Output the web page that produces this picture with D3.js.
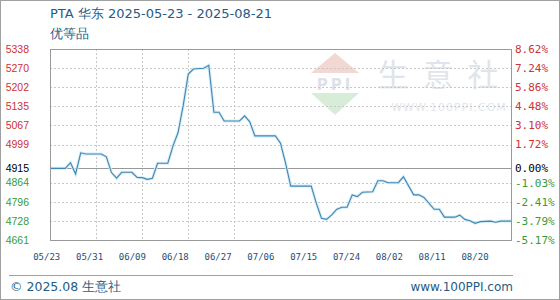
<!DOCTYPE html>
<html>
<head>
<meta charset="utf-8">
<script src="https://cdn.jsdelivr.net/npm/d3@7"></script>
<style>
  html, body { margin: 0; padding: 0; background: #fff; }
  svg { display: block; }
</style>
</head>
<body>
<div id="chart"></div>
<script>
// PTA East China price line, 2025-05-23 .. 2025-08-21

const dates = ["2025-05-23","2025-05-26","2025-05-27","2025-05-28","2025-05-29","2025-05-30",
  "2025-06-02","2025-06-03","2025-06-04","2025-06-05","2025-06-06","2025-06-08","2025-06-09",
  "2025-06-10","2025-06-11","2025-06-12","2025-06-13","2025-06-15","2025-06-16","2025-06-17",
  "2025-06-18","2025-06-19","2025-06-20","2025-06-22","2025-06-23","2025-06-24","2025-06-25",
  "2025-06-26","2025-06-29","2025-06-30","2025-07-01","2025-07-02","2025-07-06","2025-07-07",
  "2025-07-08","2025-07-09","2025-07-13","2025-07-14","2025-07-15","2025-07-16","2025-07-17",
  "2025-07-18","2025-07-19","2025-07-20","2025-07-21","2025-07-22","2025-07-23","2025-07-25",
  "2025-07-26","2025-07-27","2025-07-28","2025-07-30","2025-07-31","2025-08-02","2025-08-03",
  "2025-08-04","2025-08-06","2025-08-07","2025-08-08","2025-08-10","2025-08-11","2025-08-12",
  "2025-08-13","2025-08-14","2025-08-15","2025-08-17","2025-08-18","2025-08-19","2025-08-21"];

const prices = [4915,4915,4935,4895,4970,4966,
  4966,4956,4900,4880,4901,4901,4883,
  4882,4876,4880,4933,4933,4994,5042,
  5137,5249,5267,5270,5280,5114,5114,
  5083,5083,5101,5080,5030,5030,5004,
  4933,4852,4852,4791,4738,4734,4750,
  4770,4777,4777,4821,4815,4830,4832,
  4871,4871,4864,4864,4885,4821,4821,
  4812,4770,4770,4742,4742,4749,4734,
  4729,4720,4726,4728,4724,4728,4728];

const basePrice = 4915;
const yTicks = [4661, 4728, 4796, 4864, 4915, 4999, 5067, 5135, 5202, 5270, 5338];
const pctLabels = ["-5.17%", "-3.79%", "-2.41%", "-1.03%", "0.00%", "1.72%", "3.10%", "4.48%", "5.86%", "7.24%", "8.62%"];
const xLabels = ["05/23", "05/31", "06/09", "06/18", "06/27", "07/06", "07/15", "07/24", "08/02", "08/11", "08/20"];

const W = 560, H = 300;
const plot = { left: 50, right: 511, top: 49, bottom: 240 };

const RED = "#cc3333", GREEN = "#3a9a3a", BLUE_TXT = "#245b86";

const parse = d3.utcParse("%Y-%m-%d");
const data = dates.map((d, i) => ({ date: parse(d), value: prices[i] }));

const svg = d3.select("#chart").append("svg")
  .attr("width", W)
  .attr("height", H);

svg.append("rect")
  .attr("x", 0.5).attr("y", 0.5)
  .attr("width", W - 1).attr("height", H - 1)
  .attr("fill", "#fff")
  .attr("stroke", "#a0a0a0");

const x = d3.scaleUtc()
  .domain([parse("2025-05-23"), parse("2025-08-21")])
  .range([plot.left, plot.right]);

const y = d3.scaleLinear()
  .domain([4661, 5338])
  .range([plot.bottom, plot.top]);

const xLab = d3.scalePoint()
  .domain(xLabels)
  .range([46.7, 475]);

// watermark
const wm = svg.append("g").attr("class", "watermark");
wm.append("path")
  .attr("d", "M335,53 L359,73 L311,73 Z")
  .attr("fill", "#f3d7d2");
wm.append("text")
  .attr("x", 335).attr("y", 90)
  .attr("text-anchor", "middle")
  .style("font-family", "DejaVu Sans, sans-serif")
  .style("font-size", "15px")
  .style("font-weight", "bold")
  .style("letter-spacing", "3px")
  .attr("fill", "#dde2ea")
  .text("PPI");
wm.append("path")
  .attr("d", "M311,93 L359,93 L335,115 Z")
  .attr("fill", "#d8edd8");
wm.append("text")
  .attr("x", 445).attr("y", 86)
  .attr("text-anchor", "middle")
  .style("font-family", "Noto Sans CJK SC, sans-serif")
  .style("font-size", "31px")
  .style("letter-spacing", "14px")
  .attr("fill", "#e0e4eb")
  .text("生意社");
wm.append("text")
  .attr("x", 449).attr("y", 111)
  .attr("text-anchor", "middle")
  .style("font-family", "DejaVu Sans, sans-serif")
  .style("font-size", "11px")
  .style("letter-spacing", "1px")
  .attr("fill", "#e3e6ec")
  .text("WWW.100PPI.COM");

// grid
const grid = svg.append("g").attr("class", "grid");
grid.selectAll(".hgrid")
  .data(yTicks.filter(v => v !== basePrice))
  .join("line")
  .attr("x1", plot.left).attr("x2", plot.right)
  .attr("y1", d => Math.round(y(d)) + 0.5)
  .attr("y2", d => Math.round(y(d)) + 0.5)
  .attr("stroke", "#c8c8c8")
  .attr("stroke-dasharray", "2,2");

const vTicks = d3.utcDay.every(9).range(parse("2025-05-24"), parse("2025-08-21"))
  .filter(d => d3.utcDay.count(parse("2025-05-23"), d) % 9 === 0);
grid.selectAll(".vgrid")
  .data(vTicks)
  .join("line")
  .attr("x1", d => Math.round(x(d)) + 0.5)
  .attr("x2", d => Math.round(x(d)) + 0.5)
  .attr("y1", plot.top).attr("y2", plot.bottom)
  .attr("stroke", "#c8c8c8")
  .attr("stroke-dasharray", "2,2");

// base line
svg.append("line")
  .attr("x1", plot.left).attr("x2", plot.right)
  .attr("y1", Math.round(y(basePrice)) + 0.5)
  .attr("y2", Math.round(y(basePrice)) + 0.5)
  .attr("stroke", "#999");

// price line
const line = d3.line()
  .x(d => x(d.date))
  .y(d => y(d.value));

svg.append("path")
  .datum(data)
  .attr("fill", "none")
  .attr("stroke", "#d6ecf7")
  .attr("stroke-width", 3)
  .attr("d", line);
svg.append("path")
  .datum(data)
  .attr("fill", "none")
  .attr("stroke", "#3f87b3")
  .attr("stroke-width", 1.1)
  .attr("d", line);

// plot frame
svg.append("rect")
  .attr("x", plot.left + 0.5).attr("y", plot.top + 0.5)
  .attr("width", plot.right - plot.left)
  .attr("height", plot.bottom - plot.top)
  .attr("fill", "none")
  .attr("stroke", "#999");

const tickColor = v => v > basePrice ? RED : (v < basePrice ? GREEN : "#000");

// left axis labels
svg.append("g")
  .selectAll("text")
  .data(yTicks)
  .join("text")
  .attr("x", 29)
  .attr("y", d => y(d))
  .attr("dy", "0.35em")
  .attr("text-anchor", "end")
  .style("font-family", "Liberation Sans, Arial, sans-serif")
  .style("font-size", "10.5px")
  .attr("fill", d => tickColor(d))
  .text(d => d);

// right axis labels
svg.append("g")
  .selectAll("text")
  .data(yTicks)
  .join("text")
  .attr("x", 515)
  .attr("y", d => y(d))
  .attr("dy", "0.35em")
  .style("font-family", "DejaVu Sans Mono, monospace")
  .style("font-size", "11px")
  .attr("fill", d => tickColor(d))
  .text((d, i) => pctLabels[i]);

// x labels
svg.append("g")
  .selectAll("text")
  .data(xLabels)
  .join("text")
  .attr("x", d => xLab(d))
  .attr("y", 260)
  .attr("text-anchor", "middle")
  .style("font-family", "DejaVu Sans Mono, monospace")
  .style("font-size", "9px")
  .attr("fill", "#1f4e79")
  .text(d => d);

// title
svg.append("text")
  .attr("x", 50).attr("y", 18)
  .style("font-family", "DejaVu Sans, sans-serif")
  .style("font-size", "13px")
  .attr("fill", BLUE_TXT)
  .text("PTA 华东 2025-05-23 - 2025-08-21");
svg.append("text")
  .attr("x", 50).attr("y", 38)
  .style("font-family", "DejaVu Sans, sans-serif")
  .style("font-size", "13px")
  .attr("fill", BLUE_TXT)
  .text("优等品");

// footer
svg.append("line")
  .attr("x1", 9).attr("x2", 513)
  .attr("y1", 275.5).attr("y2", 275.5)
  .attr("stroke", "#a0a0a0");
svg.append("text")
  .attr("x", 10).attr("y", 291)
  .style("font-family", "DejaVu Sans, sans-serif")
  .style("font-size", "12.5px")
  .attr("fill", BLUE_TXT)
  .text("© 2025.08 生意社");
svg.append("text")
  .attr("x", 513).attr("y", 291)
  .attr("text-anchor", "end")
  .style("font-family", "DejaVu Sans, sans-serif")
  .style("font-size", "12px")
  .attr("fill", BLUE_TXT)
  .text("www.100PPI.com");
</script>
</body>
</html>
